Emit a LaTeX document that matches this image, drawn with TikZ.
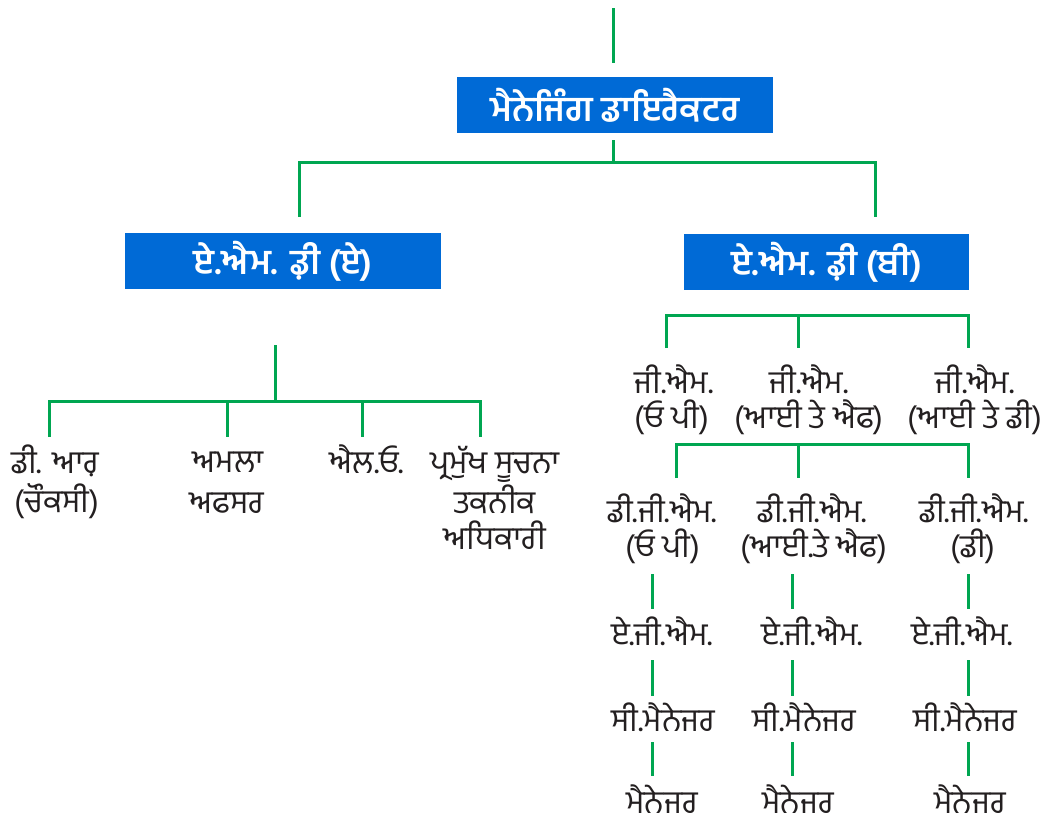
\documentclass[tikz,border=0pt]{standalone}
\usepackage{fontspec}
\newfontfamily\pa[Script=Gurmukhi]{Hind Jalandhar}
\definecolor{boxblue}{RGB}{0,106,214}
\definecolor{lgreen}{RGB}{0,166,81}
\definecolor{txt}{RGB}{35,31,32}
\begin{document}
\begin{tikzpicture}[x=1pt,y=-1pt,
  conn/.style={draw=lgreen,line width=3pt},
  hbox/.style={fill=boxblue,text=white,inner sep=0pt,font=\pa\bfseries\fontsize{35}{40}\selectfont},
  lbl/.style={text=txt,inner sep=0pt,anchor=base,font=\pa\fontsize{32}{37}\selectfont}]
\useasboundingbox (0,0) rectangle (1042,820);
% boxes
\node[hbox,minimum width=316pt,minimum height=56pt] (md) at (615,105) {ਮੈਨੇਜਿੰਗ ਡਾਇਰੈਕਟਰ};
\node[hbox,minimum width=316pt,minimum height=56pt] (amda) at (283,261) {ਏ.ਐਮ. ਡ਼ੀ (ਏ)};
\node[hbox,minimum width=285pt,minimum height=56pt] (amdb) at (826.5,262) {ਏ.ਐਮ. ਡ਼ੀ (ਬੀ)};
% top
\coordinate (t0) at (613,8);
\coordinate (t1) at (613,63);
\draw[conn] (t0) -- (t1);
\coordinate (m0) at (613,140);
\coordinate (m1) at (613,162);
\coordinate (ma) at (299,162);
\coordinate (mb) at (875,162);
\coordinate (ma2) at (299,217);
\coordinate (mb2) at (875,217);
\draw[conn] (m0) -- (m1);
\draw[conn] (ma2) -- (ma) -- (mb) -- (mb2);
% left subtree
\node[lbl] (dra) at (55,473) {ਡੀ. ਆਰ਼};
\node[lbl] (drb) at (57,512) {(ਚੌਕਸੀ)};
\node[lbl] (ama) at (228,472) {ਅਮਲਾ};
\node[lbl] (amb) at (227,513) {ਅਫਸਰ};
\node[lbl] (lo) at (367,473) {ਐਲ.ਓ.};
\node[lbl] (pra) at (495,473) {ਪ੍ਰਮੁੱਖ ਸੂਚਨਾ};
\node[lbl] (prb) at (495,513) {ਤਕਨੀਕ};
\node[lbl] (prc) at (495,549) {ਅਧਿਕਾਰੀ};
\coordinate (l0) at (275,345);
\coordinate (l1) at (275,401);
\draw[conn] (l0) -- (l1);
\coordinate (h1) at (49,401);
\coordinate (h2) at (227,401);
\coordinate (h3) at (362,401);
\coordinate (h4) at (480,401);
\draw[conn] (49,437) -- (h1) -- (h4) -- (480,437);
\draw[conn] (h2) -- (227,437);
\draw[conn] (h3) -- (362,437);
% right subtree: GM
\node[lbl] (g1a) at (674,393) {ਜੀ.ਐਮ.};
\node[lbl] (g1b) at (672,428) {(ਓ ਪੀ)};
\node[lbl] (g2a) at (809,393) {ਜੀ.ਐਮ.};
\node[lbl] (g2b) at (809,428) {(ਆਈ ਤੇ ਐਫ)};
\node[lbl] (g3a) at (975,393) {ਜੀ.ਐਮ.};
\node[lbl] (g3b) at (975,428) {(ਆਈ ਤੇ ਡੀ)};
\coordinate (r1) at (666,315);
\coordinate (r2) at (798,315);
\coordinate (r3) at (968,315);
\draw[conn] (666,348) -- (r1) -- (r3) -- (968,348);
\draw[conn] (r2) -- (798,348);
% DGM
\node[lbl] (d1a) at (662,522) {ਡੀ.ਜੀ.ਐਮ.};
\node[lbl] (d1b) at (663,557) {(ਓ ਪੀ)};
\node[lbl] (d2a) at (812,522) {ਡੀ.ਜੀ.ਐਮ.};
\node[lbl] (d2b) at (814,557) {(ਆਈ.ਤੇ ਐਫ)};
\node[lbl] (d3a) at (974,522) {ਡੀ.ਜੀ.ਐਮ.};
\node[lbl] (d3b) at (973,557) {(ਡੀ)};
\coordinate (s1) at (676,444);
\coordinate (s2) at (798,444);
\coordinate (s3) at (968,444);
\draw[conn] (676,478) -- (s1) -- (s3) -- (968,478);
\draw[conn] (s2) -- (798,478);
% AGM
\node[lbl] (a1) at (662,645) {ਏ.ਜੀ.ਐਮ.};
\node[lbl] (a2) at (812,645) {ਏ.ਜੀ.ਐਮ.};
\node[lbl] (a3) at (962,645) {ਏ.ਜੀ.ਐਮ.};
\node[lbl] (c1) at (663,731) {ਸੀ.ਮੈਨੇਜਰ};
\node[lbl] (c2) at (804,731) {ਸੀ.ਮੈਨੇਜਰ};
\node[lbl] (c3) at (965,731) {ਸੀ.ਮੈਨੇਜਰ};
\node[lbl] (n1) at (662,813) {ਮੈਨੇਜਰ};
\node[lbl] (n2) at (798,813) {ਮੈਨੇਜਰ};
\node[lbl] (n3) at (970,813) {ਮੈਨੇਜਰ};
\foreach \x in {652,792,968}{
  \draw[conn] (\x,574) -- (\x,609);
  \draw[conn] (\x,660) -- (\x,696);
  \draw[conn] (\x,742) -- (\x,776);
}
\end{tikzpicture}
\end{document}
